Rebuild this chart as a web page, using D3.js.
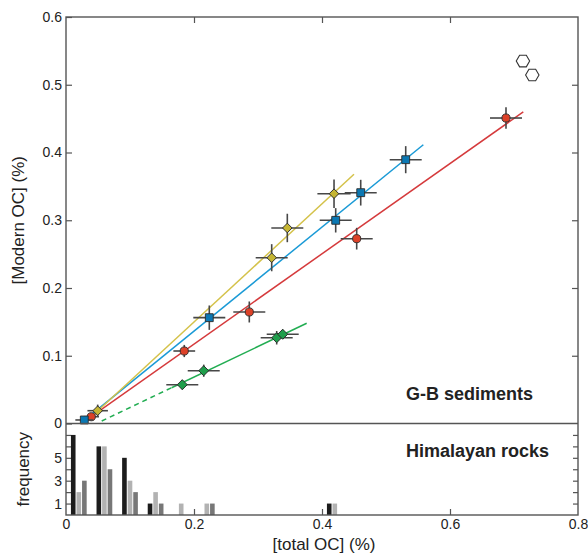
<!DOCTYPE html>
<html>
<head>
<meta charset="utf-8">
<script src="https://cdn.jsdelivr.net/npm/d3@7"></script>
<style>
  body { margin: 0; background: #fff; }
  svg { font-family: "Liberation Sans", Arial, Helvetica, sans-serif; }
</style>
</head>
<body>
<svg width="588" height="555"></svg>
<script>

// G-B sediments: [total OC] vs [Modern OC], one set per symbol
const circleTotal = [0.0395, 0.1848, 0.2864, 0.4542, 0.6875];
const circleModern = [0.010, 0.107, 0.1646, 0.2728, 0.4509];
const circleXErr = [0.012, 0.017, 0.025, 0.025, 0.025];
const circleYErr = [0.005, 0.009, 0.0155, 0.016, 0.016];

const squareTotal = [0.0286, 0.2239, 0.4214, 0.4605, 0.5308];
const squareModern = [0.0052, 0.1562, 0.2999, 0.3407, 0.3894];
const squareXErr = [0.014, 0.025, 0.025, 0.025, 0.025];
const squareYErr = [0.004, 0.018, 0.018, 0.019, 0.02];

const yellowTotal = [0.0495, 0.3214, 0.3458, 0.4188];
const yellowModern = [0.0189, 0.2447, 0.2886, 0.3392];
const yellowXErr = [0.016, 0.025, 0.025, 0.026];
const yellowYErr = [0.009, 0.02, 0.021, 0.021];

const greenTotal = [0.1817, 0.2152, 0.3292, 0.3386];
const greenModern = [0.0573, 0.0779, 0.1266, 0.1317];
const greenXErr = [0.025, 0.025, 0.025, 0.025];
const greenYErr = [0.007, 0.009, 0.01, 0.007];

// open hexagons (no error bars)
const hexTotal = [0.714, 0.7286];
const hexModern = [0.535, 0.5144];

// fitted lines [x0, y0, x1, y1]
const redFit = [0.03, 0.004, 0.7145, 0.460];
const blueFit = [0.025, 0.002, 0.5583, 0.4115];
const yellowFit = [0.035, 0.006, 0.45, 0.3678];
const greenFitDashed = [0.0558, 0.0037, 0.165, 0.0528];
const greenFit = [0.165, 0.0528, 0.3761, 0.1479];

// Himalayan rocks histogram
const binCenters = [0.02, 0.06, 0.10, 0.14, 0.18, 0.22, 0.42];
const blackFreq = [7, 6, 5, 1, 0, 0, 1];
const lightFreq = [2, 6, 3, 2, 1, 1, 1];
const darkFreq = [3, 4, 2, 1, 0, 1, 0];

// tick labels
const xTicks = [0, 0.2, 0.4, 0.6, 0.8];
const yTicks = [0, 0.1, 0.2, 0.3, 0.4, 0.5, 0.6];
const freqTicks = [1, 2, 3, 4, 5, 6, 7];
const freqLabels = [1, 3, 5];

var svg = d3.select("svg");
var pLeft = 66, pRight = 578, pTop = 17, pMid = 423.5, pBottom = 515;
var frameColor = "#555";

var x = d3.scaleLinear().domain([0, 0.8]).range([pLeft, pRight]);
var y = d3.scaleLinear().domain([0, 0.6]).range([pMid, pTop]);
var yf = d3.scaleLinear().domain([0, 8]).range([pBottom, pMid]);

// axes with inward ticks
function styleAxis(g) {
    g.select(".domain").remove();
    g.selectAll(".tick line").attr("stroke", frameColor).attr("stroke-width", 1.2);
    g.selectAll(".tick text").attr("fill", "#222").style("font-size", "14px");
}

svg.append("g")
    .attr("transform", "translate(" + pLeft + ",0)")
    .call(d3.axisLeft(y).tickValues(yTicks).tickSize(-6).tickPadding(4).tickFormat(d => d))
    .call(styleAxis);

svg.append("g")
    .attr("transform", "translate(" + pRight + ",0)")
    .call(d3.axisRight(y).tickValues(yTicks.slice(1, -1)).tickSize(-6).tickFormat(""))
    .call(styleAxis);

svg.append("g")
    .attr("transform", "translate(0," + pTop + ")")
    .call(d3.axisTop(x).tickValues([0.2, 0.4, 0.6]).tickSize(-6).tickFormat(""))
    .call(styleAxis);

svg.append("g")
    .attr("transform", "translate(0," + pBottom + ")")
    .call(d3.axisBottom(x).tickValues(xTicks).tickSize(-6).tickPadding(4).tickFormat(d => d))
    .call(styleAxis)
    .selectAll(".tick line").filter(d => d === 0 || d === 0.8).remove();

svg.append("g")
    .attr("transform", "translate(" + pLeft + ",0)")
    .call(d3.axisLeft(yf).tickValues(freqTicks).tickSize(-5).tickPadding(4)
        .tickFormat(d => freqLabels.includes(d) ? d : ""))
    .call(styleAxis);

svg.append("g")
    .attr("transform", "translate(" + pRight + ",0)")
    .call(d3.axisRight(yf).tickValues(freqTicks).tickSize(-5).tickFormat(""))
    .call(styleAxis);

// histogram bars
var barW = x(0.0072) - x(0);
var offset = 0.0087;
var histSeries = [
    { freq: blackFreq, dx: -offset, color: "#1c1c1c" },
    { freq: lightFreq, dx: 0, color: "#b2b2b2" },
    { freq: darkFreq, dx: offset, color: "#777" }
];
histSeries.forEach(function(s) {
    svg.append("g").selectAll("rect")
        .data(binCenters.map((c, i) => ({ c: c + s.dx, f: s.freq[i] })).filter(d => d.f > 0))
        .enter()
        .append("rect")
        .attr("x", d => x(d.c) - barW / 2)
        .attr("y", d => yf(d.f))
        .attr("width", barW)
        .attr("height", d => yf(0) - yf(d.f))
        .attr("fill", s.color);
});

// fitted lines
function fitLine(f, color, dash) {
    svg.append("line")
        .attr("x1", x(f[0])).attr("y1", y(f[1]))
        .attr("x2", x(f[2])).attr("y2", y(f[3]))
        .attr("stroke", color)
        .attr("stroke-width", 1.5)
        .attr("stroke-dasharray", dash || null);
}
fitLine(redFit, "#d53a3c");
fitLine(blueFit, "#1a9ad6");
fitLine(yellowFit, "#d4c24a");
fitLine(greenFitDashed, "#22ad52", "5,4");
fitLine(greenFit, "#22ad52");

// data sets with error bars (diamonds = squares turned 45 degrees)
var sets = [
    { xs: greenTotal, ys: greenModern, xe: greenXErr, ye: greenYErr, sym: d3.symbolSquare, size: 50, color: "#1f9e4b", rot: 45 },
    { xs: circleTotal, ys: circleModern, xe: circleXErr, ye: circleYErr, sym: d3.symbolCircle, size: 52, color: "#dc4128", rot: 0 },
    { xs: squareTotal, ys: squareModern, xe: squareXErr, ye: squareYErr, sym: d3.symbolSquare, size: 62, color: "#0b78b3", rot: 0 },
    { xs: yellowTotal, ys: yellowModern, xe: yellowXErr, ye: yellowYErr, sym: d3.symbolSquare, size: 46, color: "#c6b633", rot: 45 }
];

var errColor = "#474747";
sets.forEach(function(s) {
    var pts = s.xs.map((v, i) => ({ tx: v, my: s.ys[i], xe: s.xe[i], ye: s.ye[i] }));
    var g = svg.append("g");
    g.selectAll(".xerr").data(pts).enter().append("line")
        .attr("x1", d => x(d.tx - d.xe)).attr("x2", d => x(d.tx + d.xe))
        .attr("y1", d => y(d.my)).attr("y2", d => y(d.my))
        .attr("stroke", errColor).attr("stroke-width", 1.6);
    g.selectAll(".yerr").data(pts).enter().append("line")
        .attr("x1", d => x(d.tx)).attr("x2", d => x(d.tx))
        .attr("y1", d => y(d.my - d.ye)).attr("y2", d => y(d.my + d.ye))
        .attr("stroke", errColor).attr("stroke-width", 1.6);
    g.selectAll("path").data(pts).enter().append("path")
        .attr("d", d3.symbol().type(s.sym).size(s.size))
        .attr("transform", d => "translate(" + x(d.tx) + "," + y(d.my) + ")rotate(" + s.rot + ")")
        .attr("fill", s.color)
        .attr("stroke", "#2a2a2a")
        .attr("stroke-width", 0.9);
});

// open hexagons
function hexPath(r) {
    var p = d3.path();
    for (var k = 0; k < 6; k++) {
        var a = k * Math.PI / 3;
        if (k === 0) p.moveTo(r * Math.cos(a), r * Math.sin(a));
        else p.lineTo(r * Math.cos(a), r * Math.sin(a));
    }
    p.closePath();
    return p.toString();
}
svg.append("g").selectAll("path")
    .data(hexTotal.map((v, i) => [v, hexModern[i]]))
    .enter()
    .append("path")
    .attr("d", hexPath(6.7))
    .attr("transform", d => "translate(" + x(d[0]) + "," + y(d[1]) + ")")
    .attr("fill", "#fff")
    .attr("stroke", "#333")
    .attr("stroke-width", 1.1);

// frames
svg.append("rect")
    .attr("x", pLeft).attr("y", pTop)
    .attr("width", pRight - pLeft).attr("height", pBottom - pTop)
    .attr("fill", "none").attr("stroke", frameColor).attr("stroke-width", 1.4);
svg.append("line")
    .attr("x1", pLeft).attr("x2", pRight).attr("y1", pMid).attr("y2", pMid)
    .attr("stroke", frameColor).attr("stroke-width", 1.4);

// panel titles
svg.append("text")
    .attr("x", 406).attr("y", 400)
    .style("font-size", "18px").style("font-weight", "bold").attr("fill", "#222")
    .text("G-B sediments");
svg.append("text")
    .attr("x", 406).attr("y", 457)
    .style("font-size", "18px").style("font-weight", "bold").attr("fill", "#222")
    .text("Himalayan rocks");

// axis labels
svg.append("text")
    .attr("text-anchor", "middle")
    .style("font-size", "17px").attr("fill", "#222")
    .attr("transform", "translate(24," + (pTop + pMid) / 2 + ")rotate(-90)")
    .text("[Modern OC] (%)");
svg.append("text")
    .attr("text-anchor", "middle")
    .style("font-size", "17px").attr("fill", "#222")
    .attr("transform", "translate(29," + (pMid + pBottom) / 2 + ")rotate(-90)")
    .text("frequency");
svg.append("text")
    .attr("text-anchor", "middle")
    .style("font-size", "17px").attr("fill", "#222")
    .attr("x", (pLeft + pRight) / 2 + 2).attr("y", 550)
    .text("[total OC] (%)");

</script>
</body>
</html>
